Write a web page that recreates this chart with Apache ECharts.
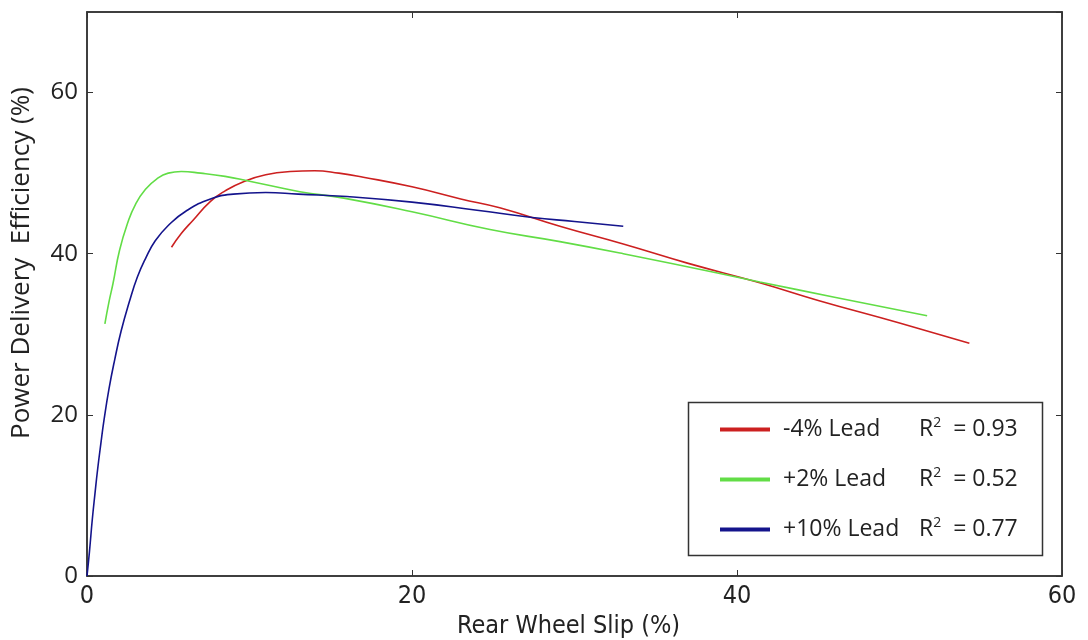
<!DOCTYPE html>
<html>
<head>
<meta charset="utf-8">
<script src="https://cdn.jsdelivr.net/npm/echarts@6/dist/echarts.min.js"></script>
<style>
  html,body{margin:0;padding:0;background:#fff;}
  #chart{width:1088px;height:640px;}
</style>
</head>
<body>
<div id="chart"></div>
<script>
/* ---------- data ---------- */
const leadNames = ['-4% Lead', '+2% Lead', '+10% Lead'];
const r2Values  = ['0.93', '0.52', '0.77'];
const lineColors = ['#cc2020', '#62dd46', '#14148c'];

// -4% lead
const redX = [5.2, 5.8, 6.5, 7.6, 8.5, 9.7, 11, 12.5, 14, 15.5, 17, 20, 23, 25.4, 29.1, 33, 37, 41.4, 45, 50, 54.3];
const redY = [40.8, 42.5, 44.1, 46.5, 47.8, 49.0, 49.8, 50.2, 50.3, 50.0, 49.5, 48.3, 46.8, 45.7, 43.4, 41.2, 38.8, 36.4, 34.2, 31.4, 28.9];

// +2% lead
const greenX = [1.1, 1.35, 1.6, 2.0, 2.5, 3.0, 3.6, 4.3, 5.0, 5.8, 7, 8.5, 10, 13.1, 15.8, 20, 24.8, 29.1, 33, 38.8, 41.4, 46, 51.7];
const greenY = [31.3, 34.0, 36.3, 40.4, 43.8, 46.2, 48.0, 49.3, 50.0, 50.2, 50.0, 49.6, 49.0, 47.7, 46.9, 45.2, 43.0, 41.5, 40.0, 37.6, 36.5, 34.6, 32.3];

// +10% lead
const blueX = [0, 0.15, 0.33, 0.5, 0.64, 0.85, 1.05, 1.35, 1.7, 2.1, 2.6, 3.1, 3.6, 4.2, 5, 6.1, 7.6, 9, 11, 13, 16, 20, 24, 27.4, 30, 33];
const blueY = [0, 3.0, 7.1, 10.4, 13.0, 16.4, 19.4, 23.2, 26.8, 30.4, 34.0, 37.1, 39.4, 41.6, 43.5, 45.3, 46.8, 47.4, 47.6, 47.4, 47.1, 46.4, 45.4, 44.5, 44.0, 43.4];

const seriesX = [redX, greenX, blueX];
const seriesY = [redY, greenY, blueY];

/* ---------- chart ---------- */
const axisColor = '#333';
const labelFont = '"Open Sans", "DejaVu Sans", sans-serif';
const narrowFont = '"Liberation Sans Narrow", "DejaVu Sans Condensed", sans-serif';

function frameAxis(pos, max){
  return {
    type:'value', position:pos, min:0, max:max, interval:20,
    axisLine:{show:true, onZero:false, lineStyle:{color:axisColor, width:1.5}},
    axisTick:{show:true, inside:true, length:6, lineStyle:{color:axisColor}},
    axisLabel:{show:false},
    splitLine:{show:false}
  };
}

const chart = echarts.init(document.getElementById('chart'), null, {renderer:'canvas'});
const lineSeries = leadNames.map((name,i)=>({
  name:name, type:'line', smooth:true, showSymbol:false,
  xAxisIndex:0, yAxisIndex:0,
  lineStyle:{color:lineColors[i], width:1.6},
  itemStyle:{color:lineColors[i]},
  data:seriesX[i].map((x,k)=>[x, seriesY[i][k]])
}));
// empty helper series so the top/right frame axes get drawn
lineSeries.push({
  name:'frame', type:'line', xAxisIndex:1, yAxisIndex:1, silent:true,
  showSymbol:false, lineStyle:{opacity:0}, data:[[0,0]]
});

chart.setOption({
  animation:false,
  backgroundColor:'#fff',
  grid:{left:87, right:26, top:12, bottom:64, outerBoundsMode:'none', containLabel:false,
        show:true, borderColor:axisColor, borderWidth:1.5},
  xAxis:[{
    type:'value', min:0, max:60, interval:20,
    name:'Rear Wheel Slip (%)', nameLocation:'middle', nameGap:36,
    nameTextStyle:{fontFamily:narrowFont, fontSize:25, color:'#222', padding:[0,12,0,0]},
    axisLine:{show:true, lineStyle:{color:axisColor, width:1.5}},
    axisTick:{show:true, inside:true, length:6, lineStyle:{color:axisColor}},
    axisLabel:{fontFamily:narrowFont, fontSize:25, color:'#222', margin:8},
    splitLine:{show:false}
  }, frameAxis('top', 60)],
  yAxis:[{
    type:'value', min:0, max:70, interval:20,
    name:'Power Delivery  Efficiency (%)', nameLocation:'middle', nameGap:52,
    nameTextStyle:{fontFamily:labelFont, fontSize:26, color:'#222', padding:[0,0,0,62]},
    axisLine:{show:true, lineStyle:{color:axisColor, width:1.5}},
    axisTick:{show:true, inside:true, length:6, lineStyle:{color:axisColor}},
    axisLabel:{fontFamily:labelFont, fontSize:24, color:'#222', margin:9, showMaxLabel:false},
    splitLine:{show:false}
  }, frameAxis('right', 70)],
  legend:{
    orient:'vertical', left:715, top:411,
    data:leadNames,
    icon:'rect', itemWidth:50, itemHeight:4, itemGap:25,
    formatter:name=>{
      const i = leadNames.indexOf(name);
      return `{n|${name}}{r|R}{s|2}{v|  = ${r2Values[i]}}`;
    },
    textStyle:{
      color:'#222',
      rich:{
        n:{fontFamily:labelFont, fontSize:23, width:136, padding:[0,0,0,8]},
        r:{fontFamily:labelFont, fontSize:23},
        s:{fontFamily:labelFont, fontSize:14, padding:[0,0,13,0]},
        v:{fontFamily:labelFont, fontSize:23}
      }
    }
  },
  graphic:[{
    type:'rect', left:686, top:400, z:3,
    shape:{width:354, height:153},
    style:{fill:'none', stroke:axisColor, lineWidth:1.5}
  }],
  series:lineSeries
});
</script>
</body>
</html>
